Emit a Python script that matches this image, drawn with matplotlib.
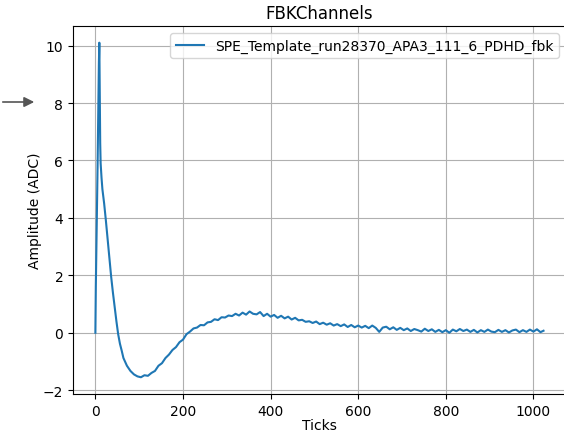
import matplotlib
matplotlib.use("Agg")
import matplotlib.pyplot as plt

# SPE template waveform
ticks = [0, 1, 2, 3, 4, 5, 6, 7, 8, 9, 10, 11, 12, 14, 16, 20, 24, 28, 32, 36,
         40, 44, 48, 52, 56, 60,
         64, 72, 80, 88, 96, 104, 112, 120, 128, 136, 144, 152, 160, 168, 176,
         184, 192, 200, 208, 216, 224, 232, 240, 248, 256, 264, 272, 280, 288,
         296, 304, 312, 320, 328, 336, 344, 352, 360, 368, 376, 384, 392, 400,
         408, 416, 424, 432, 440, 448, 456, 464, 472, 480, 488, 496, 504, 512,
         520, 528, 536, 544, 552, 560, 568, 576, 584, 592, 600, 608, 616, 624,
         632, 640, 648, 656, 664, 672, 680, 688, 696, 704, 712, 720, 728, 736,
         744, 752, 760, 768, 776, 784, 792, 800, 808, 816, 824, 832, 840, 848,
         856, 864, 872, 880, 888, 896, 904, 912, 920, 928, 936, 944, 952, 960,
         968, 976, 984, 992, 1000, 1008, 1016, 1023]
amplitude = [0.0, 1.6, 2.6, 3.6, 4.6, 5.8, 7.0, 8.3, 9.4, 10.1, 8.2, 6.6, 5.9,
             5.4, 5.0, 4.5, 3.9, 3.25, 2.6, 1.95, 1.4, 0.9, 0.4, -0.05, -0.38,
             -0.62,
             -0.88, -1.15, -1.33, -1.45, -1.52, -1.55, -1.48, -1.50, -1.40,
             -1.33, -1.15, -1.06, -0.88, -0.76, -0.60, -0.50, -0.33, -0.24,
             -0.05, 0.04, 0.15, 0.18, 0.27, 0.26, 0.36, 0.38, 0.47, 0.44, 0.54,
             0.53, 0.60, 0.58, 0.66, 0.60, 0.70, 0.63, 0.74, 0.66, 0.64, 0.72,
             0.58, 0.66, 0.56, 0.62, 0.52, 0.59, 0.50, 0.56, 0.46, 0.52, 0.43,
             0.45, 0.38, 0.40, 0.34, 0.39, 0.30, 0.35, 0.28, 0.33, 0.25, 0.30,
             0.23, 0.29, 0.20, 0.27, 0.19, 0.25, 0.18, 0.24, 0.16, 0.25, 0.17,
             0.03, 0.18, 0.21, 0.12, 0.19, 0.10, 0.17, 0.09, 0.15, 0.06, 0.13,
             0.09, 0.04, 0.14, 0.06, 0.12, 0.03, 0.10, 0.02, 0.09, 0.00, 0.11,
             0.05, 0.13, 0.06, 0.11, 0.03, 0.10, 0.01, 0.09, 0.03, 0.11, 0.04,
             0.02, 0.10, 0.03, 0.09, 0.01, 0.08, 0.11, 0.02, 0.09, 0.03, 0.11,
             0.04, 0.12, 0.02, 0.07]
label = "SPE_Template_run28370_APA3_111_6_PDHD_fbk"

fig = plt.figure(figsize=(5.64, 4.35), dpi=100)
ax = fig.add_axes([0.1294, 0.092, 0.874, 0.846])

ax.plot(ticks, amplitude, label=label)
ax.set_title("FBKChannels")
ax.set_xlabel("Ticks", labelpad=0.5)
ax.set_ylabel("Amplitude (ADC)", labelpad=0.5)
ax.grid(True)
ax.legend(loc="upper right")

# the little pointer on the left edge
ax.annotate("", xy=(37 / 564, 332 / 435), xytext=(0, 332 / 435),
            xycoords="figure fraction", textcoords="figure fraction",
            arrowprops=dict(arrowstyle="-|>", color="#555555", lw=1.2,
                            mutation_scale=15))

fig.savefig("out.png", dpi=100)
